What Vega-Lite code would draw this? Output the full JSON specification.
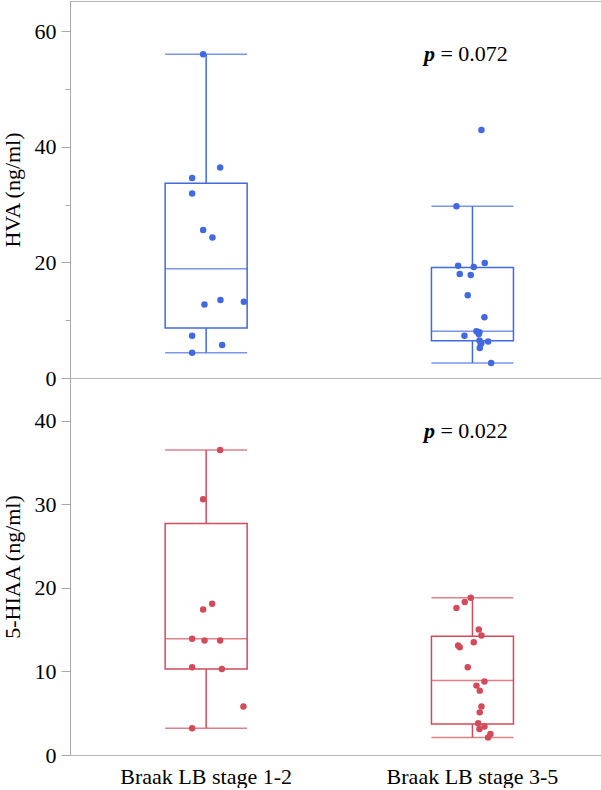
{
  "$schema": "https://vega.github.io/schema/vega-lite/v6.json",
  "padding": {"left": 0, "top": 0, "right": 0, "bottom": 0},
  "background": "white",
  "spacing": 0,
  "bounds": "flush",
  "config": {
    "font": "Liberation Serif",
    "view": {"stroke": "#b4b4b4", "strokeWidth": 1},
    "axis": {
      "labelFont": "Liberation Serif", "titleFont": "Liberation Serif",
      "labelFontSize": 22, "titleFontSize": 22,
      "labelColor": "#000", "titleColor": "#000", "titleFontWeight": "normal",
      "domainColor": "#a8a8a8", "tickColor": "#a8a8a8", "grid": false
    }
  },
  "datasets": {
    "hva_pts": [
      {"group": "Braak LB stage 1-2", "value": 56.0, "jitter": -3},
      {"group": "Braak LB stage 1-2", "value": 36.4, "jitter": 14},
      {"group": "Braak LB stage 1-2", "value": 34.6, "jitter": -14},
      {"group": "Braak LB stage 1-2", "value": 31.9, "jitter": -14},
      {"group": "Braak LB stage 1-2", "value": 25.6, "jitter": -3},
      {"group": "Braak LB stage 1-2", "value": 24.3, "jitter": 6.3},
      {"group": "Braak LB stage 1-2", "value": 13.5, "jitter": 14.3},
      {"group": "Braak LB stage 1-2", "value": 13.2, "jitter": 37.7},
      {"group": "Braak LB stage 1-2", "value": 12.7, "jitter": -1.7},
      {"group": "Braak LB stage 1-2", "value": 7.3, "jitter": -14},
      {"group": "Braak LB stage 1-2", "value": 5.7, "jitter": 16},
      {"group": "Braak LB stage 1-2", "value": 4.35, "jitter": -14},
      {"group": "Braak LB stage 3-5", "value": 42.9, "jitter": 9},
      {"group": "Braak LB stage 3-5", "value": 29.7, "jitter": -16},
      {"group": "Braak LB stage 3-5", "value": 19.9, "jitter": 12.3},
      {"group": "Braak LB stage 3-5", "value": 19.4, "jitter": -14.3},
      {"group": "Braak LB stage 3-5", "value": 19.2, "jitter": 1.3},
      {"group": "Braak LB stage 3-5", "value": 18.0, "jitter": -12.7},
      {"group": "Braak LB stage 3-5", "value": 17.8, "jitter": -1.7},
      {"group": "Braak LB stage 3-5", "value": 14.3, "jitter": -4.7},
      {"group": "Braak LB stage 3-5", "value": 10.5, "jitter": 12},
      {"group": "Braak LB stage 3-5", "value": 8.1, "jitter": 4},
      {"group": "Braak LB stage 3-5", "value": 7.9, "jitter": 7},
      {"group": "Braak LB stage 3-5", "value": 7.6, "jitter": 6.3},
      {"group": "Braak LB stage 3-5", "value": 7.3, "jitter": -8},
      {"group": "Braak LB stage 3-5", "value": 6.5, "jitter": 7},
      {"group": "Braak LB stage 3-5", "value": 6.3, "jitter": 15.7},
      {"group": "Braak LB stage 3-5", "value": 6.1, "jitter": 9},
      {"group": "Braak LB stage 3-5", "value": 5.9, "jitter": 8.3},
      {"group": "Braak LB stage 3-5", "value": 5.2, "jitter": 7.3},
      {"group": "Braak LB stage 3-5", "value": 2.6, "jitter": 18.7}
    ],
    "hva_box": [
      {"group": "Braak LB stage 1-2", "lo": 4.35, "q1": 8.64, "median": 18.9, "q3": 33.7, "hi": 56.0},
      {"group": "Braak LB stage 3-5", "lo": 2.6, "q1": 6.45, "median": 8.1, "q3": 19.1, "hi": 29.7}
    ],
    "hiaa_pts": [
      {"group": "Braak LB stage 1-2", "value": 36.5, "jitter": 14},
      {"group": "Braak LB stage 1-2", "value": 30.6, "jitter": -3},
      {"group": "Braak LB stage 1-2", "value": 18.1, "jitter": 6},
      {"group": "Braak LB stage 1-2", "value": 17.4, "jitter": -3},
      {"group": "Braak LB stage 1-2", "value": 13.9, "jitter": -14},
      {"group": "Braak LB stage 1-2", "value": 13.7, "jitter": -1.6},
      {"group": "Braak LB stage 1-2", "value": 13.7, "jitter": 14},
      {"group": "Braak LB stage 1-2", "value": 10.5, "jitter": -14},
      {"group": "Braak LB stage 1-2", "value": 10.3, "jitter": 15.7},
      {"group": "Braak LB stage 1-2", "value": 5.8, "jitter": 37.3},
      {"group": "Braak LB stage 1-2", "value": 3.2, "jitter": -14},
      {"group": "Braak LB stage 3-5", "value": 18.8, "jitter": -1.7},
      {"group": "Braak LB stage 3-5", "value": 18.3, "jitter": -7.7},
      {"group": "Braak LB stage 3-5", "value": 17.6, "jitter": -16},
      {"group": "Braak LB stage 3-5", "value": 15.0, "jitter": 6.3},
      {"group": "Braak LB stage 3-5", "value": 14.3, "jitter": 9},
      {"group": "Braak LB stage 3-5", "value": 13.5, "jitter": 1.3},
      {"group": "Braak LB stage 3-5", "value": 13.1, "jitter": -14.3},
      {"group": "Braak LB stage 3-5", "value": 12.9, "jitter": -12.7},
      {"group": "Braak LB stage 3-5", "value": 10.5, "jitter": -4.7},
      {"group": "Braak LB stage 3-5", "value": 8.8, "jitter": 12},
      {"group": "Braak LB stage 3-5", "value": 8.3, "jitter": 4},
      {"group": "Braak LB stage 3-5", "value": 7.7, "jitter": 7.3},
      {"group": "Braak LB stage 3-5", "value": 5.8, "jitter": 9},
      {"group": "Braak LB stage 3-5", "value": 5.1, "jitter": 7.3},
      {"group": "Braak LB stage 3-5", "value": 3.8, "jitter": 5.7},
      {"group": "Braak LB stage 3-5", "value": 3.4, "jitter": 12},
      {"group": "Braak LB stage 3-5", "value": 3.1, "jitter": 7},
      {"group": "Braak LB stage 3-5", "value": 2.5, "jitter": 18},
      {"group": "Braak LB stage 3-5", "value": 2.1, "jitter": 15.7}
    ],
    "hiaa_box": [
      {"group": "Braak LB stage 1-2", "lo": 3.2, "q1": 10.3, "median": 13.9, "q3": 27.7, "hi": 36.5},
      {"group": "Braak LB stage 3-5", "lo": 2.1, "q1": 3.7, "median": 8.9, "q3": 14.2, "hi": 18.8}
    ],
    "hva_note": [{"group": "Braak LB stage 3-5", "y": 54.8, "p": "p", "rest": "= 0.072"}],
    "hiaa_note": [{"group": "Braak LB stage 3-5", "y": 37.9, "p": "p", "rest": "= 0.022"}]
  },
  "vconcat": [
    {
      "width": 531, "height": 377,
      "resolve": {"axis": {"y": "independent"}},
      "layer": [
        {
          "data": {"name": "hva_box"},
          "mark": {"type": "rule", "color": "#4169e1", "strokeWidth": 1.5},
          "encoding": {
            "x": {"field": "group", "type": "nominal", "sort": ["Braak LB stage 1-2", "Braak LB stage 3-5"], "scale": {"type": "band", "range": [3, 535.6], "paddingInner": 0, "paddingOuter": 0}, "axis": null},
            "y": {"field": "lo", "type": "quantitative", "scale": {"domain": [0, 65.2], "nice": false}, "axis": {"values": [0, 20, 40, 60], "title": "HVA (ng/ml)", "tickSize": 9, "labelPadding": 5, "titlePadding": 10}},
            "y2": {"field": "hi"}
          }
        },
        {
          "data": {"name": "hva_box"},
          "mark": {"type": "bar", "width": 82, "fill": "white", "stroke": "#4169e1", "strokeWidth": 1.5},
          "encoding": {
            "x": {"field": "group", "type": "nominal", "sort": ["Braak LB stage 1-2", "Braak LB stage 3-5"], "axis": null},
            "y": {"field": "q1", "type": "quantitative", "axis": {"orient": "left", "values": [10, 30, 50], "labels": false, "domain": false, "title": null, "tickSize": 5}},
            "y2": {"field": "q3"}
          }
        },
        {
          "data": {"name": "hva_box"},
          "mark": {"type": "tick", "size": 82, "thickness": 1.5, "color": "#4169e1"},
          "encoding": {
            "x": {"field": "group", "type": "nominal", "sort": ["Braak LB stage 1-2", "Braak LB stage 3-5"], "axis": null},
            "y": {"field": "median", "type": "quantitative", "axis": null}
          }
        },
        {
          "data": {"name": "hva_box"},
          "mark": {"type": "tick", "size": 82, "thickness": 1.5, "color": "#4169e1"},
          "encoding": {
            "x": {"field": "group", "type": "nominal", "sort": ["Braak LB stage 1-2", "Braak LB stage 3-5"], "axis": null},
            "y": {"field": "lo", "type": "quantitative", "axis": null}
          }
        },
        {
          "data": {"name": "hva_box"},
          "mark": {"type": "tick", "size": 82, "thickness": 1.5, "color": "#4169e1"},
          "encoding": {
            "x": {"field": "group", "type": "nominal", "sort": ["Braak LB stage 1-2", "Braak LB stage 3-5"], "axis": null},
            "y": {"field": "hi", "type": "quantitative", "axis": null}
          }
        },
        {
          "data": {"name": "hva_pts"},
          "mark": {"type": "circle", "size": 42, "opacity": 1, "color": "#4169e1"},
          "encoding": {
            "x": {"field": "group", "type": "nominal", "sort": ["Braak LB stage 1-2", "Braak LB stage 3-5"], "axis": null},
            "xOffset": {"field": "jitter", "type": "quantitative", "scale": {"domain": [-133.15, 133.15]}},
            "y": {"field": "value", "type": "quantitative", "axis": null}
          }
        },
        {
          "data": {"name": "hva_note"},
          "mark": {"type": "text", "font": "Liberation Serif", "fontSize": 22, "fontStyle": "italic", "fontWeight": "bold", "align": "left", "baseline": "alphabetic", "dx": -48.5, "color": "#000"},
          "encoding": {
            "x": {"field": "group", "type": "nominal", "sort": ["Braak LB stage 1-2", "Braak LB stage 3-5"], "axis": null},
            "y": {"field": "y", "type": "quantitative", "axis": null},
            "text": {"field": "p"}
          }
        },
        {
          "data": {"name": "hva_note"},
          "mark": {"type": "text", "font": "Liberation Serif", "fontSize": 22, "align": "left", "baseline": "alphabetic", "dx": -32, "color": "#000"},
          "encoding": {
            "x": {"field": "group", "type": "nominal", "sort": ["Braak LB stage 1-2", "Braak LB stage 3-5"], "axis": null},
            "y": {"field": "y", "type": "quantitative", "axis": null},
            "text": {"field": "rest"}
          }
        }
      ]
    },
    {
      "width": 531, "height": 377,
      "layer": [
        {
          "data": {"name": "hiaa_box"},
          "mark": {"type": "rule", "color": "#d24b5a", "strokeWidth": 1.5},
          "encoding": {
            "x": {"field": "group", "type": "nominal", "sort": ["Braak LB stage 1-2", "Braak LB stage 3-5"], "scale": {"type": "band", "range": [3, 535.6], "paddingInner": 0, "paddingOuter": 0}, "axis": {"title": null, "ticks": false, "domain": false, "labelAngle": 0, "labelPadding": 11}},
            "y": {"field": "lo", "type": "quantitative", "scale": {"domain": [0, 45.1], "nice": false}, "axis": {"values": [0, 10, 20, 30, 40], "title": "5-HIAA (ng/ml)", "tickSize": 9, "labelPadding": 5, "titlePadding": 10}},
            "y2": {"field": "hi"}
          }
        },
        {
          "data": {"name": "hiaa_box"},
          "mark": {"type": "bar", "width": 82, "fill": "white", "stroke": "#d24b5a", "strokeWidth": 1.5},
          "encoding": {
            "x": {"field": "group", "type": "nominal", "sort": ["Braak LB stage 1-2", "Braak LB stage 3-5"]},
            "y": {"field": "q1", "type": "quantitative"},
            "y2": {"field": "q3"}
          }
        },
        {
          "data": {"name": "hiaa_box"},
          "mark": {"type": "tick", "size": 82, "thickness": 1.5, "color": "#d24b5a"},
          "encoding": {
            "x": {"field": "group", "type": "nominal", "sort": ["Braak LB stage 1-2", "Braak LB stage 3-5"]},
            "y": {"field": "median", "type": "quantitative"}
          }
        },
        {
          "data": {"name": "hiaa_box"},
          "mark": {"type": "tick", "size": 82, "thickness": 1.5, "color": "#d24b5a"},
          "encoding": {
            "x": {"field": "group", "type": "nominal", "sort": ["Braak LB stage 1-2", "Braak LB stage 3-5"]},
            "y": {"field": "lo", "type": "quantitative"}
          }
        },
        {
          "data": {"name": "hiaa_box"},
          "mark": {"type": "tick", "size": 82, "thickness": 1.5, "color": "#d24b5a"},
          "encoding": {
            "x": {"field": "group", "type": "nominal", "sort": ["Braak LB stage 1-2", "Braak LB stage 3-5"]},
            "y": {"field": "hi", "type": "quantitative"}
          }
        },
        {
          "data": {"name": "hiaa_pts"},
          "mark": {"type": "circle", "size": 42, "opacity": 1, "color": "#d24b5a"},
          "encoding": {
            "x": {"field": "group", "type": "nominal", "sort": ["Braak LB stage 1-2", "Braak LB stage 3-5"]},
            "xOffset": {"field": "jitter", "type": "quantitative", "scale": {"domain": [-133.15, 133.15]}},
            "y": {"field": "value", "type": "quantitative"}
          }
        },
        {
          "data": {"name": "hiaa_note"},
          "mark": {"type": "text", "font": "Liberation Serif", "fontSize": 22, "fontStyle": "italic", "fontWeight": "bold", "align": "left", "baseline": "alphabetic", "dx": -48.5, "color": "#000"},
          "encoding": {
            "x": {"field": "group", "type": "nominal", "sort": ["Braak LB stage 1-2", "Braak LB stage 3-5"]},
            "y": {"field": "y", "type": "quantitative"},
            "text": {"field": "p"}
          }
        },
        {
          "data": {"name": "hiaa_note"},
          "mark": {"type": "text", "font": "Liberation Serif", "fontSize": 22, "align": "left", "baseline": "alphabetic", "dx": -32, "color": "#000"},
          "encoding": {
            "x": {"field": "group", "type": "nominal", "sort": ["Braak LB stage 1-2", "Braak LB stage 3-5"]},
            "y": {"field": "y", "type": "quantitative"},
            "text": {"field": "rest"}
          }
        }
      ]
    }
  ]
}
